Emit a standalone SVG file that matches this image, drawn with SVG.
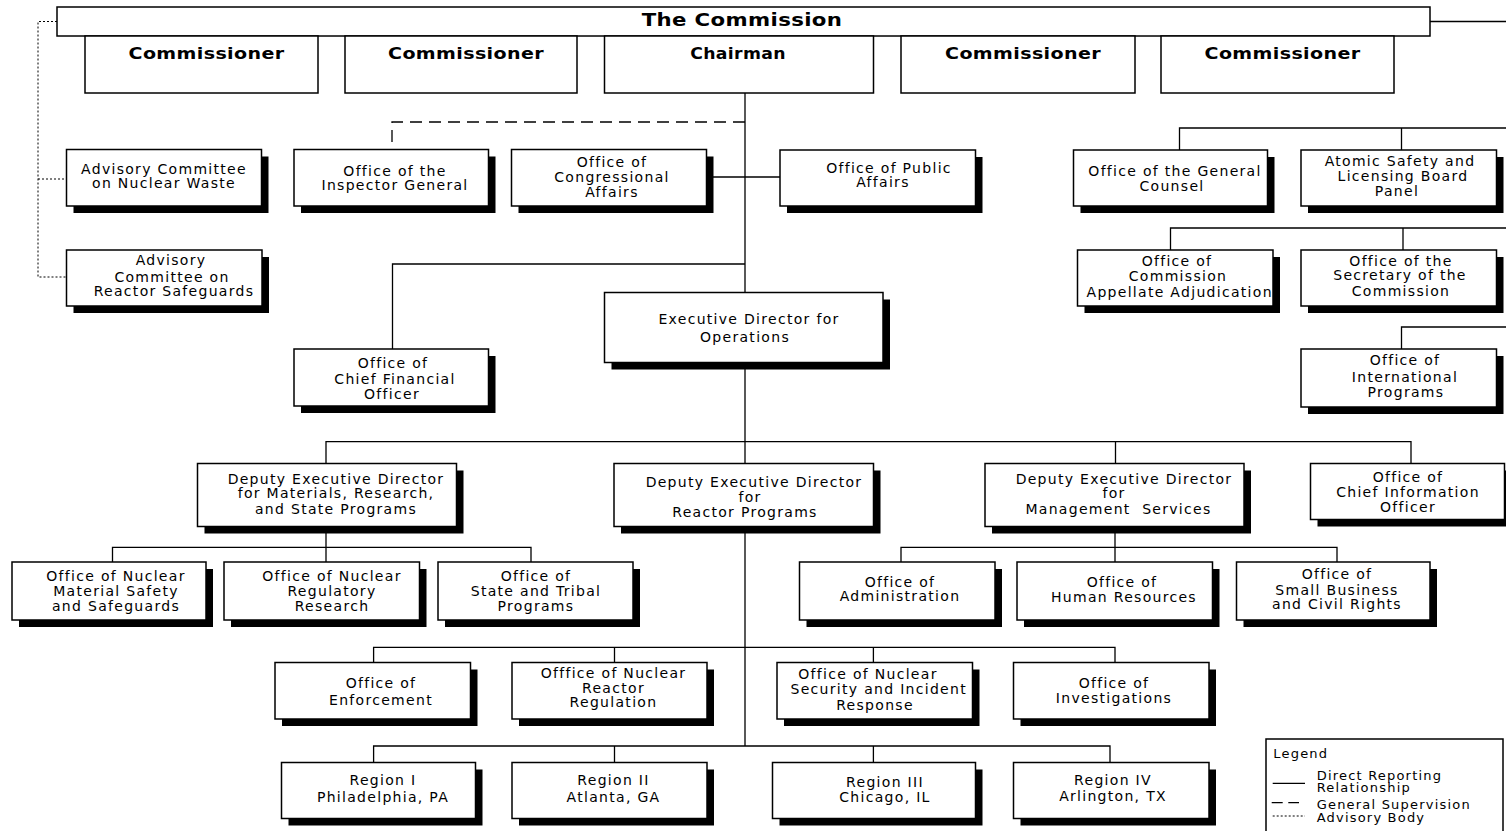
<svg xmlns="http://www.w3.org/2000/svg" width="1506" height="831" viewBox="0 0 1506 831">
<defs>
<style>
.box{fill:#fff;stroke:#000;stroke-width:1.5}
.sh{fill:#000}
.t{font-family:"DejaVu Sans","Liberation Sans",sans-serif;font-size:14px;letter-spacing:1.3px;text-anchor:middle;fill:#000}
.b{font-family:"DejaVu Sans","Liberation Sans",sans-serif;font-weight:bold;font-size:15px;letter-spacing:0.3px;text-anchor:middle;fill:#000}
.lg{font-family:"DejaVu Sans","Liberation Sans",sans-serif;font-size:13px;letter-spacing:1.2px;fill:#000}
.c{fill:none;stroke:#000;stroke-width:1.3}
.dash{stroke-dasharray:12 7}
.dot{stroke-dasharray:2 2;stroke-width:1}
</style>
<clipPath id="clipOCAA"><rect x="1077.5" y="250" width="195.5" height="56"/></clipPath>
<clipPath id="clipNSIR"><rect x="777" y="662.5" width="195.5" height="56.5"/></clipPath>
</defs>
<rect x="0" y="0" width="1506" height="831" fill="#fff"/>

<g id="connectors">
<path class="c" d="M745,93 V292.5 M745,362.5 V463.5 M745,526.5 V746"/>
<path class="c dash" d="M745,122 H392 V149.5"/>
<path class="c" d="M706.5,177 H780"/>
<path class="c" d="M745,264 H392.5 V349"/>
<path class="c" d="M1430,21.5 H1506"/>
<path class="c" d="M1179.5,150 V128 H1506 M1401.5,128 V150"/>
<path class="c" d="M1170.5,250 V228 H1506 M1403,228 V250"/>
<path class="c" d="M1401.5,349 V327 H1506"/>
<path class="c dot" d="M57,21.5 H38 V277 H66.5 M38,179 H66.5"/>
<path class="c" d="M326,463.5 V441.7 H1411 V463.5 M1115.5,441.7 V463.5"/>
<path class="c" d="M326,526.5 V562 M112.5,562 V547.3 H531 V562"/>
<path class="c" d="M1115,526.5 V562 M901,562 V547.3 H1337 V562"/>
<path class="c" d="M373.6,662.5 V647.3 H1115 V662.5 M614.5,647.3 V662.5 M873.4,647.3 V662.5"/>
<path class="c" d="M373.6,762.5 V746 H1110 V762.5 M614.5,746 V762.5 M873.4,746 V762.5"/>
</g>

<g id="commission">
<rect class="box" x="57" y="7" width="1373" height="29"/>
<text class="b" transform="translate(742,26) scale(1.25,1)" style="font-size:17px">The Commission</text>
</g>
<g id="commissioner1">
<rect class="box" x="85" y="36" width="233" height="57"/>
<text class="b" transform="translate(206.5,58.5) scale(1.27,1)">Commissioner</text>
</g>
<g id="commissioner2">
<rect class="box" x="345" y="36" width="232" height="57"/>
<text class="b" transform="translate(466,58.5) scale(1.27,1)">Commissioner</text>
</g>
<g id="chairman">
<rect class="box" x="604.5" y="36" width="269" height="57"/>
<text class="b" transform="translate(738,58.5) scale(1.15,1)">Chairman</text>
</g>
<g id="commissioner3">
<rect class="box" x="901" y="36" width="234" height="57"/>
<text class="b" transform="translate(1023,58.5) scale(1.27,1)">Commissioner</text>
</g>
<g id="commissioner4">
<rect class="box" x="1161" y="36" width="233" height="57"/>
<text class="b" transform="translate(1282.5,58.5) scale(1.27,1)">Commissioner</text>
</g>

<g id="acnw">
<rect class="sh" x="73.5" y="156.5" width="195" height="56.5"/>
<rect class="box" x="66.5" y="149.5" width="195" height="56.5"/>
<text class="t"><tspan x="164" y="174">Advisory Committee</tspan><tspan x="164" y="188">on Nuclear Waste</tspan></text>
</g>
<g id="acrs">
<rect class="sh" x="73.5" y="257" width="195.5" height="56"/>
<rect class="box" x="66.5" y="250" width="195.5" height="56"/>
<text class="t"><tspan x="171" y="265.3">Advisory</tspan><tspan x="172" y="281.7">Committee on</tspan><tspan x="174" y="296.3">Reactor Safeguards</tspan></text>
</g>
<g id="oig">
<rect class="sh" x="301" y="156.5" width="194.5" height="56.5"/>
<rect class="box" x="294" y="149.5" width="194.5" height="56.5"/>
<text class="t"><tspan x="395" y="175.7">Office of the</tspan><tspan x="395" y="190">Inspector General</tspan></text>
</g>
<g id="oca">
<rect class="sh" x="518.5" y="156.5" width="195" height="56.5"/>
<rect class="box" x="511.5" y="149.5" width="195" height="56.5"/>
<text class="t"><tspan x="612" y="167">Office of</tspan><tspan x="612" y="181.7">Congressional</tspan><tspan x="612" y="197">Affairs</tspan></text>
</g>
<g id="opa">
<rect class="sh" x="787" y="157" width="195.5" height="56"/>
<rect class="box" x="780" y="150" width="195.5" height="56"/>
<text class="t"><tspan x="889" y="172.7">Office of Public</tspan><tspan x="883" y="187">Affairs</tspan></text>
</g>
<g id="ogc">
<rect class="sh" x="1080.5" y="157" width="194" height="56"/>
<rect class="box" x="1073.5" y="150" width="194" height="56"/>
<text class="t"><tspan x="1175" y="176">Office of the General</tspan><tspan x="1172" y="191.3">Counsel</tspan></text>
</g>
<g id="aslb">
<rect class="sh" x="1308" y="157" width="195.5" height="56"/>
<rect class="box" x="1301" y="150" width="195.5" height="56"/>
<text class="t"><tspan x="1400" y="165.7">Atomic Safety and</tspan><tspan x="1403" y="181.3">Licensing Board</tspan><tspan x="1397" y="195.7">Panel</tspan></text>
</g>
<g id="ocaa">
<rect class="sh" x="1084.5" y="257" width="195.5" height="56"/>
<rect class="box" x="1077.5" y="250" width="195.5" height="56"/>
<text class="t"><tspan x="1177" y="265.7">Office of</tspan><tspan x="1178" y="281.3">Commission</tspan></text>
<text class="t" clip-path="url(#clipOCAA)" style="text-anchor:start" x="1086.5" y="296.7">Appellate Adjudication</text>
</g>
<g id="osc">
<rect class="sh" x="1308" y="257" width="195.5" height="56"/>
<rect class="box" x="1301" y="250" width="195.5" height="56"/>
<text class="t"><tspan x="1401" y="265.7">Office of the</tspan><tspan x="1400" y="280">Secretary of the</tspan><tspan x="1401" y="296">Commission</tspan></text>
</g>
<g id="oip">
<rect class="sh" x="1308" y="356" width="195.5" height="58"/>
<rect class="box" x="1301" y="349" width="195.5" height="58"/>
<text class="t"><tspan x="1405" y="365">Office of</tspan><tspan x="1405" y="381.7">International</tspan><tspan x="1406" y="396.7">Programs</tspan></text>
</g>
<g id="cfo">
<rect class="sh" x="301" y="356" width="194.5" height="57"/>
<rect class="box" x="294" y="349" width="194.5" height="57"/>
<text class="t"><tspan x="393" y="368.3">Office of</tspan><tspan x="395" y="384.3">Chief Financial</tspan><tspan x="392" y="399.3">Officer</tspan></text>
</g>
<g id="edo">
<rect class="sh" x="611.5" y="299.5" width="278.5" height="70"/>
<rect class="box" x="604.5" y="292.5" width="278.5" height="70"/>
<text class="t"><tspan x="749" y="323.7">Executive Director for</tspan><tspan x="745" y="341.7">Operations</tspan></text>
</g>

<g id="ded-mrs">
<rect class="sh" x="204.5" y="470.5" width="259" height="63"/>
<rect class="box" x="197.5" y="463.5" width="259" height="63"/>
<text class="t"><tspan x="336" y="484">Deputy Executive Director</tspan><tspan x="336" y="498.3">for Materials, Research,</tspan><tspan x="336" y="514.3">and State Programs</tspan></text>
</g>
<g id="ded-rp">
<rect class="sh" x="621" y="470.5" width="259.5" height="63"/>
<rect class="box" x="614" y="463.5" width="259.5" height="63"/>
<text class="t"><tspan x="754" y="486.7">Deputy Executive Director</tspan><tspan x="750" y="502">for</tspan><tspan x="745" y="516.7">Reactor Programs</tspan></text>
</g>
<g id="ded-ms">
<rect class="sh" x="992" y="470.5" width="259" height="63"/>
<rect class="box" x="985" y="463.5" width="259" height="63"/>
<text class="t"><tspan x="1124" y="484">Deputy Executive Director</tspan><tspan x="1114" y="498">for</tspan><tspan x="1118.5" y="514" xml:space="preserve">Management  Services</tspan></text>
</g>
<g id="cio">
<rect class="sh" x="1317.5" y="470.5" width="194" height="56"/>
<rect class="box" x="1310.5" y="463.5" width="194" height="56"/>
<text class="t"><tspan x="1408" y="482.3">Office of</tspan><tspan x="1408" y="497">Chief Information</tspan><tspan x="1408" y="512.3">Officer</tspan></text>
</g>

<g id="nmss">
<rect class="sh" x="19" y="569" width="194" height="58"/>
<rect class="box" x="12" y="562" width="194" height="58"/>
<text class="t"><tspan x="116" y="581">Office of Nuclear</tspan><tspan x="116" y="595.7">Material Safety</tspan><tspan x="116" y="610.7">and Safeguards</tspan></text>
</g>
<g id="res">
<rect class="sh" x="231" y="569" width="195.5" height="58"/>
<rect class="box" x="224" y="562" width="195.5" height="58"/>
<text class="t"><tspan x="332" y="581">Office of Nuclear</tspan><tspan x="332" y="595.7">Regulatory</tspan><tspan x="332" y="610.7">Research</tspan></text>
</g>
<g id="stp">
<rect class="sh" x="445" y="569" width="195" height="58"/>
<rect class="box" x="438" y="562" width="195" height="58"/>
<text class="t"><tspan x="536" y="581">Office of</tspan><tspan x="536" y="595.7">State and Tribal</tspan><tspan x="536" y="610.7">Programs</tspan></text>
</g>
<g id="adm">
<rect class="sh" x="806.5" y="569" width="195.5" height="58"/>
<rect class="box" x="799.5" y="562" width="195.5" height="58"/>
<text class="t"><tspan x="900" y="586.7">Office of</tspan><tspan x="900" y="600.7">Administration</tspan></text>
</g>
<g id="hr">
<rect class="sh" x="1024" y="569" width="195.5" height="58"/>
<rect class="box" x="1017" y="562" width="195.5" height="58"/>
<text class="t"><tspan x="1122" y="586.7">Office of</tspan><tspan x="1124" y="602.3">Human Resources</tspan></text>
</g>
<g id="sbcr">
<rect class="sh" x="1243.5" y="569" width="193.5" height="58"/>
<rect class="box" x="1236.5" y="562" width="193.5" height="58"/>
<text class="t"><tspan x="1337" y="579">Office of</tspan><tspan x="1337" y="595">Small Business</tspan><tspan x="1337" y="609.3">and Civil Rights</tspan></text>
</g>

<g id="oe">
<rect class="sh" x="282" y="669.5" width="195.5" height="56.5"/>
<rect class="box" x="275" y="662.5" width="195.5" height="56.5"/>
<text class="t"><tspan x="381" y="688.3">Office of</tspan><tspan x="381" y="705">Enforcement</tspan></text>
</g>
<g id="nrr">
<rect class="sh" x="519" y="669.5" width="195" height="56.5"/>
<rect class="box" x="512" y="662.5" width="195" height="56.5"/>
<text class="t"><tspan x="613.5" y="678.3">Offfice of Nuclear</tspan><tspan x="613.5" y="693.3">Reactor</tspan><tspan x="613.5" y="707.3">Regulation</tspan></text>
</g>
<g id="nsir">
<rect class="sh" x="784" y="669.5" width="195.5" height="56.5"/>
<rect class="box" x="777" y="662.5" width="195.5" height="56.5"/>
<text class="t"><tspan x="868" y="679.3">Office of Nuclear</tspan><tspan x="875" y="710.3">Response</tspan></text>
<text class="t" clip-path="url(#clipNSIR)" style="text-anchor:start" x="790.5" y="694">Security and Incident</text>
</g>
<g id="oi">
<rect class="sh" x="1020.5" y="669.5" width="195.5" height="56.5"/>
<rect class="box" x="1013.5" y="662.5" width="195.5" height="56.5"/>
<text class="t"><tspan x="1114" y="688.3">Office of</tspan><tspan x="1114" y="703.3">Investigations</tspan></text>
</g>

<g id="region1">
<rect class="sh" x="288.5" y="769.5" width="194" height="56"/>
<rect class="box" x="281.5" y="762.5" width="194" height="56"/>
<text class="t"><tspan x="383" y="785">Region I</tspan><tspan x="383" y="801.7">Philadelphia, PA</tspan></text>
</g>
<g id="region2">
<rect class="sh" x="519" y="769.5" width="195" height="56"/>
<rect class="box" x="512" y="762.5" width="195" height="56"/>
<text class="t"><tspan x="613.5" y="785">Region II</tspan><tspan x="613.5" y="801.7">Atlanta, GA</tspan></text>
</g>
<g id="region3">
<rect class="sh" x="779.5" y="769.5" width="203" height="56"/>
<rect class="box" x="772.5" y="762.5" width="203" height="56"/>
<text class="t"><tspan x="885" y="787.3">Region III</tspan><tspan x="885" y="801.7">Chicago, IL</tspan></text>
</g>
<g id="region4">
<rect class="sh" x="1020.5" y="769.5" width="195.5" height="56"/>
<rect class="box" x="1013.5" y="762.5" width="195.5" height="56"/>
<text class="t"><tspan x="1113" y="785">Region IV</tspan><tspan x="1113" y="801">Arlington, TX</tspan></text>
</g>

<g id="legend">
<rect class="box" x="1266" y="739" width="237" height="100"/>
<text class="lg" x="1273.3" y="758.3">Legend</text>
<path class="c" d="M1272.7,783.3 H1305"/>
<path class="c" d="M1271.7,802.7 H1282.7 M1288.3,802.7 H1299"/>
<path class="c dot" d="M1272.7,816 H1305"/>
<text class="lg"><tspan x="1316.7" y="780">Direct Reporting</tspan><tspan x="1316.7" y="792">Relationship</tspan><tspan x="1316.7" y="809">General Supervision</tspan><tspan x="1316.7" y="822.3">Advisory Body</tspan></text>
</g>
</svg>
